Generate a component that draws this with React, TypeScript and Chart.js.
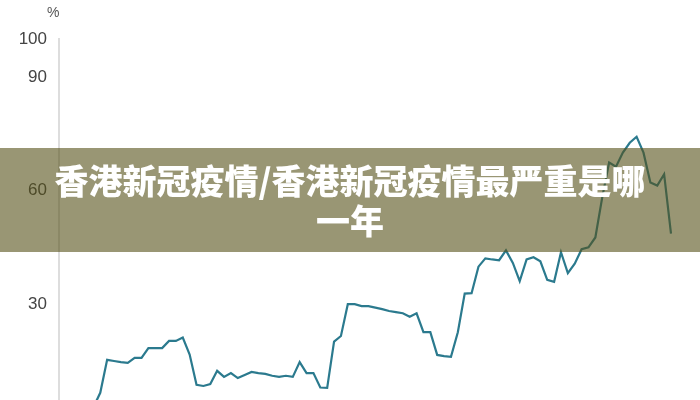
import React, { useEffect, useRef } from "react";
import { Chart, registerables } from "chart.js";

Chart.register(...registerables);

// Share (%), one value per period, left to right
const VALUES: number[] = [
  0.5, 1.0, 1.2, 1.5, 2.0, 2.8, 6.6,
  15.3, 15.0, 14.7, 14.5, 15.8, 15.8, 18.4, 18.4, 18.4, 20.3, 20.3, 21.2, 16.7,
  8.7, 8.4, 8.9, 12.4, 10.8, 11.8, 10.5, 11.3, 12.1, 11.8, 11.6, 11.1, 10.8,
  11.1, 10.8, 14.7, 11.8, 11.8, 8.0, 7.9, 20.1, 21.6, 30.0, 30.0, 29.5, 29.5,
  29.1, 28.7, 28.2, 27.9, 27.6, 26.7, 27.6, 22.6, 22.6, 16.6, 16.3, 16.1, 22.6,
  32.8, 32.9, 39.9, 42.1, 41.8, 41.6, 44.2, 40.9, 36.1, 41.8, 42.4, 41.3, 36.4,
  35.9, 43.7, 38.2, 40.7, 44.5, 45.0, 47.6, 58.2, 67.4, 66.3, 70.0, 72.6, 74.2,
  70.0, 62.1, 61.3, 64.3, 48.6,
];

// Period labels (the x axis itself is cut off below the picture)
const PERIODS: string[] = VALUES.map((_, i) => `W${i + 1}`);

// Y tick labels shown on the axis
const Y_TICKS: number[] = [0, 30, 60, 90, 100];

const UNIT = "%";
const TITLE_LINE_1 = "香港新冠疫情/香港新冠疫情最严重是哪";
const TITLE_LINE_2 = "一年";

export default function App() {
  const canvasRef = useRef<HTMLCanvasElement | null>(null);

  useEffect(() => {
    document.body.style.margin = "0";
    document.body.style.overflow = "hidden";
    const canvas = canvasRef.current;
    if (!canvas) return;
    const chart = new Chart(canvas, {
      type: "line",
      data: {
        labels: PERIODS,
        datasets: [
          {
            data: VALUES,
            borderColor: "#2b7a8e",
            borderWidth: 2.2,
            pointRadius: 0,
            tension: 0,
            fill: false,
          },
        ],
      },
      options: {
        responsive: false,
        animation: false,
        layout: { padding: { top: 39, bottom: 21, left: 0, right: 29 } },
        plugins: {
          legend: { display: false },
          tooltip: { enabled: false },
          title: { display: false },
        },
        scales: {
          x: { display: false, offset: false },
          y: {
            min: 0,
            max: 100,
            afterBuildTicks: (s: any) => {
              s.ticks = Y_TICKS.map((v) => ({ value: v }));
            },
            afterFit: (s: any) => {
              s.width = 59;
            },
            grid: { display: false, drawTicks: false },
            border: { display: true, color: "#dddddd", width: 2 },
            ticks: {
              padding: 12,
              color: "#444444",
              font: { family: "'Liberation Sans', Arial, sans-serif", size: 17 },
            },
          },
        },
      },
    });
    return () => chart.destroy();
  }, []);

  return (
    <div
      style={{
        position: "relative",
        width: 700,
        height: 400,
        overflow: "hidden",
        background: "#ffffff",
      }}
    >
      <canvas ref={canvasRef} width={700} height={440} style={{ display: "block" }} />
      <span
        style={{
          position: "absolute",
          left: 47,
          top: 4,
          fontFamily: "'Liberation Sans', Arial, sans-serif",
          fontSize: 14,
          color: "#555555",
        }}
      >
        {UNIT}
      </span>
      <div
        style={{
          position: "absolute",
          left: 0,
          top: 148,
          width: 700,
          height: 104,
          background: "rgba(85, 80, 24, 0.6)",
          color: "#ffffff",
          textAlign: "center",
          fontFamily: "'Noto Sans CJK SC', sans-serif",
          fontWeight: 900,
          fontSize: 34,
          lineHeight: "40px",
          paddingTop: 12,
          boxSizing: "border-box",
          whiteSpace: "nowrap",
        }}
      >
        <div>{TITLE_LINE_1}</div>
        <div>{TITLE_LINE_2}</div>
      </div>
    </div>
  );
}
